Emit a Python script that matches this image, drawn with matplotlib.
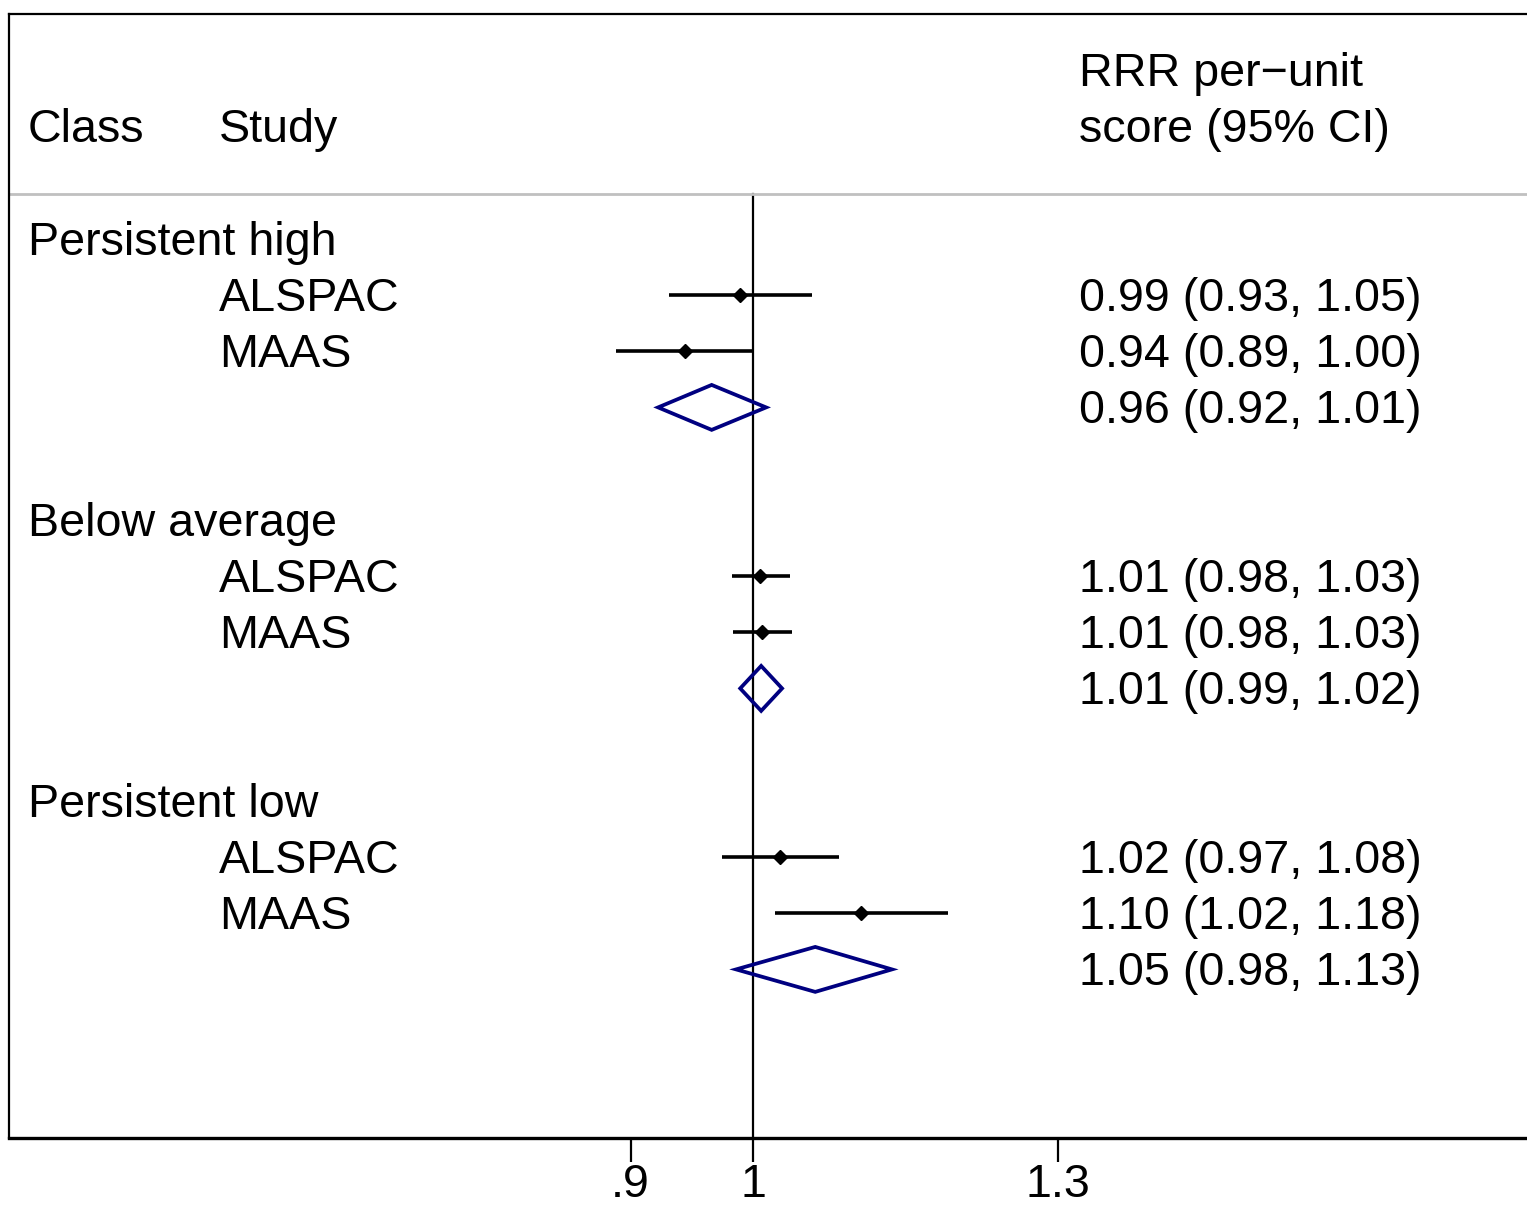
import matplotlib
matplotlib.use("Agg")
import matplotlib.pyplot as plt
import matplotlib.transforms as mtransforms

plt.rcParams['font.family'] = ['Liberation Sans', 'DejaVu Sans']

# ---- data ----
classes = ["Persistent high", "Below average", "Persistent low"]
studies = ["ALSPAC", "MAAS"]
est = [[0.989, 0.943], [1.006, 1.008], [1.0235, 1.097]]
lo = [[0.930, 0.889], [0.982, 0.983], [0.974, 1.019]]
hi = [[1.052, 1.000], [1.032, 1.034], [1.077, 1.183]]
pooled_est = [0.965, 1.007, 1.055]
pooled_lo = [0.9215, 0.989, 0.9855]
pooled_hi = [1.0113, 1.0253, 1.127]
study_text = [["0.99 (0.93, 1.05)", "0.94 (0.89, 1.00)"],
              ["1.01 (0.98, 1.03)", "1.01 (0.98, 1.03)"],
              ["1.02 (0.97, 1.08)", "1.10 (1.02, 1.18)"]]
pooled_text = ["0.96 (0.92, 1.01)", "1.01 (0.99, 1.02)", "1.05 (0.98, 1.13)"]
xticks = [0.9, 1.0, 1.3]
xticklabels = [".9", "1", "1.3"]

W, H = 1527, 1205
fig = plt.figure(figsize=(W / 100, H / 100), dpi=100)
ax = fig.add_axes([9 / W, (H - 1138) / H, (W - 9) / W, (1138 - 14) / H])
ax.set_xscale('log')
ax.set_xlim(0.527, 1.947)
ax.set_ylim(16, -4)

fs = 33.6
dy = 0.07
navy = '#000080'
tr = mtransforms.blended_transform_factory(ax.transAxes, ax.transData)
xc1, xc2, xc3 = (28 - 9) / 1518, (219 - 9) / 1518, (1079 - 9) / 1518


def txt(x, y, s):
    ax.text(x, y + dy, s, transform=tr, fontsize=fs, va='center', ha='left')


# header
txt(xc1, -2, "Class")
txt(xc2, -2, "Study")
txt(xc3, -3, "RRR per\u2212unit")
txt(xc3, -2, "score (95% CI)")
ax.plot([0, 1], [-0.8, -0.8], transform=tr, color='#c0c0c0', lw=2, clip_on=False)

# reference line
ax.plot([1, 1], [-0.8, 16], color='black', lw=1.6, zorder=1)

row = 0
for c in range(len(classes)):
    txt(xc1, row, classes[c])
    row += 1
    for s in range(len(studies)):
        txt(xc2, row, studies[s])
        ax.plot([lo[c][s], hi[c][s]], [row, row], color='black', lw=2.6, zorder=2,
                solid_capstyle='butt')
        ax.plot([est[c][s]], [row], marker='D', color='black', markersize=7, zorder=3)
        txt(xc3, row, study_text[c][s])
        row += 1
    h = 0.4
    ax.fill([pooled_lo[c], pooled_est[c], pooled_hi[c], pooled_est[c]],
            [row, row - h, row, row + h], facecolor='none', edgecolor=navy, lw=2.7, zorder=3,
            joinstyle='miter')
    txt(xc3, row, pooled_text[c])
    row += 2

ax.set_xticks(xticks)
ax.set_xticklabels(xticklabels, fontsize=fs)
ax.xaxis.set_minor_locator(matplotlib.ticker.NullLocator())
ax.tick_params(axis='x', length=17, width=1.6, pad=1, direction='out')
ax.set_yticks([])
for side in ['left', 'top']:
    ax.spines[side].set_linewidth(1.6)
ax.spines['bottom'].set_linewidth(2.4)
ax.spines['right'].set_visible(False)

fig.savefig("out.png", dpi=100)
